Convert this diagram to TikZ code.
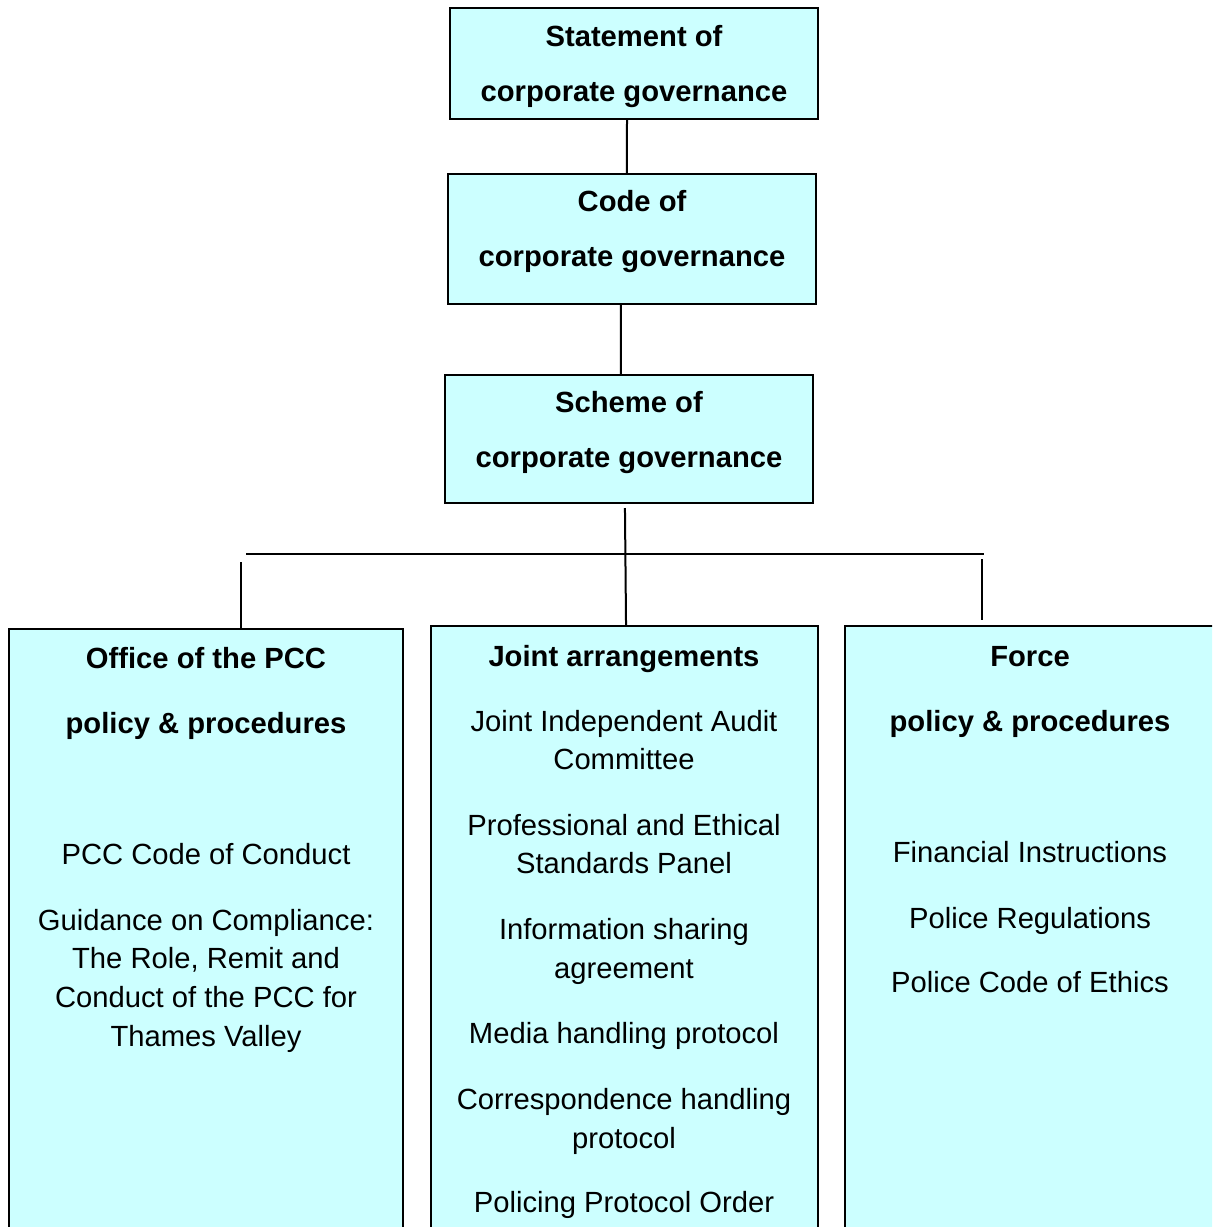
\documentclass[tikz,border=0pt]{standalone}
\usepackage{fontspec}
\setmainfont{Liberation Sans}
\usetikzlibrary{calc}
\definecolor{boxfill}{RGB}{204,255,255}
\begin{document}
\begin{tikzpicture}[x=0.5pt,y=-0.5pt,
  panel/.style={draw=black, fill=boxfill, line width=1.4pt, inner sep=0pt, outer sep=0pt, anchor=north west},
  head/.style={anchor=base, font=\fontsize{14.6}{17}\selectfont\bfseries, inner sep=0pt},
  item/.style={anchor=base, font=\fontsize{14.6}{17}\selectfont, inner sep=0pt},
  link/.style={line width=1pt}]
\useasboundingbox (0,0) rectangle (1212,1227);
\clip (0,0) rectangle (1212,1227);

% governance chain
\node[panel, minimum width=184pt, minimum height=55.5pt] (b1) at (450,8) {};
\node[panel, minimum width=184pt, minimum height=65pt] (b2) at (448,174) {};
\node[panel, minimum width=184pt, minimum height=64pt] (b3) at (445,375) {};

% the three policy columns, running on past the page edge
\node[panel, minimum width=197pt, minimum height=305.5pt] (L) at (9,629) {};
\node[panel, minimum width=193.5pt, minimum height=307pt] (M) at (431,626) {};
\node[panel, minimum width=210pt, minimum height=307pt] (R) at (845,626) {};

% box titles
\node[head] (t1a) at (634,46) {Statement of};
\node[head] (t1b) at (634,101) {corporate governance};
\node[head] (t2a) at (632,211) {Code of};
\node[head] (t2b) at (632,266) {corporate governance};
\node[head] (t3a) at (629,412) {Scheme of};
\node[head] (t3b) at (629,467) {corporate governance};

% office of the PCC
\node[head] (la) at (206,668) {Office of the PCC};
\node[head] (lb) at (206,733) {policy \& procedures};
\node[item] (l1) at (206,864) {PCC Code of Conduct};
\node[item] (l2) at (206,930) {Guidance on Compliance:};
\node[item] (l3) at (206,968) {The Role, Remit and};
\node[item] (l4) at (206,1007) {Conduct of the PCC for};
\node[item] (l5) at (206,1046) {Thames Valley};

% joint arrangements
\node[head] (ma) at (624,666) {Joint arrangements};
\node[item] (m1) at (624,731) {Joint Independent Audit};
\node[item] (m2) at (624,769) {Committee};
\node[item] (m3) at (624,835) {Professional and Ethical};
\node[item] (m4) at (624,873) {Standards Panel};
\node[item] (m5) at (624,939) {Information sharing};
\node[item] (m6) at (624,978) {agreement};
\node[item] (m7) at (624,1043) {Media handling protocol};
\node[item] (m8) at (624,1109) {Correspondence handling};
\node[item] (m9) at (624,1148) {protocol};
\node[item] (m10) at (624,1212) {Policing Protocol Order};

% force
\node[head] (ra) at (1030,666) {Force};
\node[head] (rb) at (1030,731) {policy \& procedures};
\node[item] (r1) at (1030,862) {Financial Instructions};
\node[item] (r2) at (1030,928) {Police Regulations};
\node[item] (r3) at (1030,992) {Police Code of Ethics};

% connectors
\draw[link] ($(b1.south west)!0.481!(b1.south east)$) -- ($(b2.north west)!0.486!(b2.north east)$);
\draw[link] ($(b2.south west)!0.470!(b2.south east)$) -- ($(b3.north west)!0.478!(b3.north east)$);
\draw[link] ($(b3.south west)!0.489!(b3.south east)+(0,5)$) -- ($(M.north west)!0.504!(M.north east)$);
\coordinate (busL) at (246,554);
\coordinate (busR) at (984,554);
\draw[link] (busL) -- (busR);
\draw[link] ($(L.north west)+(232,-67)$) -- ($(L.north west)+(232,0)$);
\draw[link] ($(R.north west)+(137,-67)$) -- ($(R.north west)+(137,-6)$);
\end{tikzpicture}
\end{document}
